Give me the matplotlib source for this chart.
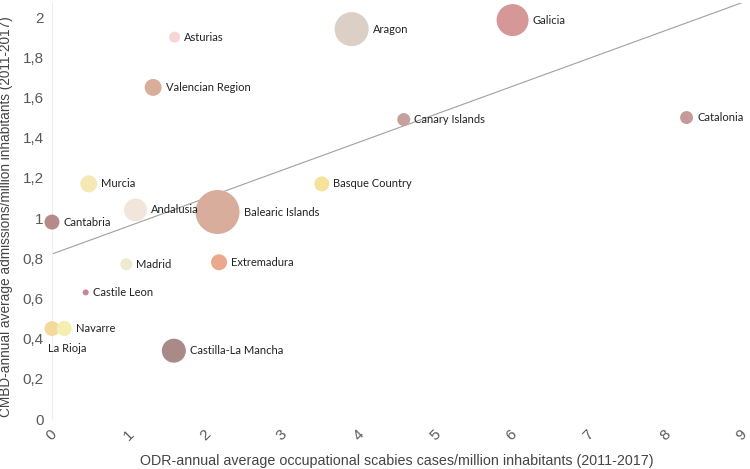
import matplotlib
matplotlib.use("Agg")
import matplotlib.pyplot as plt
import numpy as np

# Regions of Spain: occupational scabies (ODR) vs hospital admissions (CMBD)
regions = ["Asturias", "Aragon", "Galicia", "Valencian Region", "Canary Islands",
           "Catalonia", "Murcia", "Basque Country", "Andalusia", "Balearic Islands",
           "Cantabria", "Madrid", "Extremadura", "Castile Leon", "La Rioja",
           "Navarre", "Castilla-La Mancha"]
odr = [1.60, 3.91, 6.01, 1.32, 4.59, 8.28, 0.48, 3.52, 1.09, 2.16,
       0.0, 0.97, 2.18, 0.44, 0.0, 0.16, 1.59]
cmbd = [1.90, 1.94, 1.985, 1.65, 1.49, 1.50, 1.17, 1.17, 1.04, 1.03,
        0.98, 0.77, 0.78, 0.63, 0.45, 0.45, 0.34]
bubble = [30, 290, 256, 72, 42, 42, 72, 56, 132, 484,
          56, 36, 64, 9, 56, 56, 144]
colors = ["#f7d5d5", "#dccfc6", "#d69896", "#d8ae98", "#c6a09c",
          "#c79a9a", "#f6e8b4", "#f6e29c", "#f2e6dc", "#d9ad9c",
          "#b58a88", "#eeeacf", "#eca88c", "#c98490", "#f4d99c",
          "#f2efb0", "#aa8a88"]

xticks = list(range(0, 10))
yticks = [0, 0.2, 0.4, 0.6, 0.8, 1, 1.2, 1.4, 1.6, 1.8, 2]
ytick_labels = ["0", "0,2", "0,4", "0,6", "0,8", "1", "1,2", "1,4", "1,6", "1,8", "2"]

fig = plt.figure(figsize=(7.5, 4.69), dpi=100)
ax = fig.add_axes([0.0693, 0.1066, 0.9197, 0.887])

x = np.array(odr)
y = np.array(cmbd)
diam_pt = np.sqrt(np.array(bubble)) * 2 * 0.72  # diameter in points
ax.scatter(x, y, s=diam_pt ** 2, c=colors, edgecolors="none", zorder=3, clip_on=False)

# least squares trend line
slope, intercept = np.polyfit(x, y, 1)
xl = np.array([0, 9])
ax.plot(xl, slope * xl + intercept, color="#a0a0a0", lw=0.8, zorder=2)

for name, xi, yi, d in zip(regions, x, y, diam_pt):
    if name == "La Rioja":
        ax.annotate(name, (xi, yi), xytext=(-3, -d / 2 - 5), textcoords="offset points",
                    ha="left", va="top", fontsize=8, family="Lato", color="#222222")
    else:
        ax.annotate(name, (xi, yi), xytext=(d / 2 + 3, 0), textcoords="offset points",
                    ha="left", va="center", fontsize=8, family="Lato", color="#222222",
                    zorder=4)

ax.set_xlim(0, 9)
ax.set_ylim(0, 2.07)
ax.set_xticks(xticks)
ax.set_xticklabels([str(t) for t in xticks], rotation=45, ha="center", va="top",
                   fontsize=11, color="#5a5a5a", family="Liberation Sans")
ax.set_yticks(yticks)
ax.set_yticklabels(ytick_labels, fontsize=11, color="#5a5a5a", family="Liberation Sans")
ax.tick_params(length=0, pad=6)

for side in ["top", "right", "bottom"]:
    ax.spines[side].set_visible(False)
ax.spines["left"].set_color("#eeeeee")
ax.spines["left"].set_linewidth(0.8)

ax.set_xlabel("ODR-annual average occupational scabies cases/million inhabitants (2011-2017)",
              fontsize=10.3, color="#444444", family="Liberation Sans", labelpad=8)
ax.set_ylabel("CMBD-annual average admissions/million inhabitants (2011-2017)",
              fontsize=9.8, color="#444444", family="Liberation Sans", labelpad=8)
ax.yaxis.set_label_coords(-0.057, 0.487)

fig.savefig("out.png", dpi=100)
